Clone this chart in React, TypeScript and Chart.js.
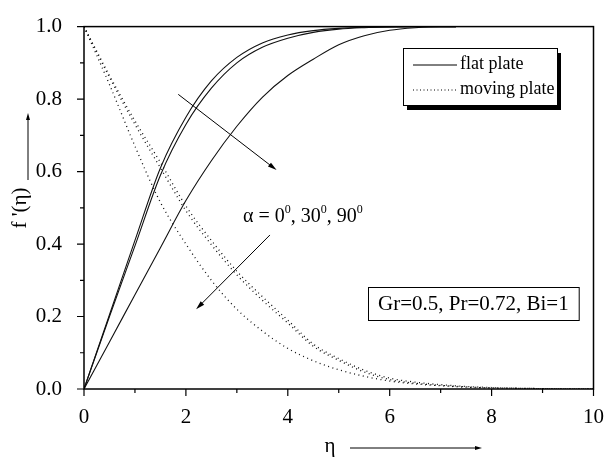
import React, { useEffect, useRef } from "react";
import { Chart, registerables } from "chart.js";

Chart.register(...registerables);

// ---- data ----
const ETA_FLAT = [0, 0.5, 1, 1.5, 2, 2.5, 3, 3.5, 4, 4.5, 5, 5.5, 6, 6.5, 7, 7.3];
const FLAT_A = [0, 0.205, 0.41, 0.61, 0.75, 0.85, 0.915, 0.955, 0.977, 0.989, 0.995, 0.998, 0.999, 1, 1, 1];
const FLAT_B = [0, 0.2, 0.395, 0.59, 0.73, 0.83, 0.9, 0.943, 0.968, 0.984, 0.993, 0.997, 0.999, 1, 1, 1];
const FLAT_C = [0, 0.13, 0.26, 0.39, 0.52, 0.63, 0.725, 0.805, 0.865, 0.91, 0.95, 0.975, 0.99, 0.997, 1, 1];

const ETA_MOVING = [0, 0.5, 1, 1.5, 2, 2.5, 3, 3.5, 4, 4.5, 5, 5.5, 6, 6.5, 7, 7.5, 8, 8.5, 9, 9.5, 10];
const MOVING_A = [1, 0.84, 0.67, 0.515, 0.4, 0.3, 0.22, 0.16, 0.112, 0.078, 0.053, 0.035, 0.022, 0.014, 0.009, 0.005, 0.003, 0.002, 0.001, 0, 0];
const MOVING_B = [1, 0.865, 0.74, 0.625, 0.505, 0.41, 0.325, 0.255, 0.19, 0.124, 0.084, 0.052, 0.03, 0.019, 0.012, 0.007, 0.004, 0.002, 0.001, 0.0005, 0];
const MOVING_C = [1, 0.86, 0.73, 0.61, 0.492, 0.398, 0.315, 0.245, 0.182, 0.118, 0.079, 0.047, 0.026, 0.016, 0.01, 0.006, 0.003, 0.002, 0.001, 0, 0];

const X_TICKS = [0, 2, 4, 6, 8, 10];
const Y_TICKS = [0, 0.2, 0.4, 0.6, 0.8, 1.0];

const LEGEND_LABELS = ["flat plate", "moving plate"];
const PARAM_TEXT = "Gr=0.5, Pr=0.72, Bi=1";
const ALPHA_PARTS = ["α = 0", ", 30", ", 90"];
const X_TITLE = "η";
const Y_TITLE = "f '(η)";

// arrows in data units [x1, y1, x2, y2]
const ARROW_FLAT = [1.85, 0.813, 3.78, 0.604];
const ARROW_MOVING = [3.65, 0.425, 2.2, 0.22];

const FONT = "'Liberation Serif', 'Times New Roman', serif";

function arrow(ctx: CanvasRenderingContext2D, x1: number, y1: number, x2: number, y2: number, head = 8, w = 3) {
  const a = Math.atan2(y2 - y1, x2 - x1);
  ctx.beginPath();
  ctx.moveTo(x1, y1);
  ctx.lineTo(x2 - Math.cos(a) * head * 0.6, y2 - Math.sin(a) * head * 0.6);
  ctx.stroke();
  ctx.beginPath();
  ctx.moveTo(x2, y2);
  ctx.lineTo(x2 - head * Math.cos(a) + w * Math.sin(a), y2 - head * Math.sin(a) - w * Math.cos(a));
  ctx.lineTo(x2 - head * Math.cos(a) - w * Math.sin(a), y2 - head * Math.sin(a) + w * Math.cos(a));
  ctx.closePath();
  ctx.fill();
}

const decorPlugin = {
  id: "decor",
  afterDatasetsDraw(chart: any) {
    const ctx: CanvasRenderingContext2D = chart.ctx;
    const { left, right, top, bottom } = chart.chartArea;
    const xs = chart.scales.x;
    const ys = chart.scales.y;
    ctx.save();
    ctx.strokeStyle = "#000";
    ctx.fillStyle = "#000";
    // frame
    ctx.lineWidth = 1.5;
    ctx.strokeRect(left, top, right - left, bottom - top);
    // ticks
    ctx.lineWidth = 1.2;
    ctx.beginPath();
    for (let v = 0; v <= 10; v += 1) {
      const px = xs.getPixelForValue(v);
      const len = v % 2 === 0 ? 7 : 4;
      ctx.moveTo(px, bottom);
      ctx.lineTo(px, bottom + len);
    }
    for (let i = 0; i <= 10; i++) {
      const py = ys.getPixelForValue(i / 10);
      const len = i % 2 === 0 ? 7 : 4;
      ctx.moveTo(left, py);
      ctx.lineTo(left - len, py);
    }
    ctx.stroke();

    // y title
    ctx.save();
    ctx.translate(20, 208);
    ctx.rotate(-Math.PI / 2);
    ctx.font = `21px ${FONT}`;
    ctx.textAlign = "center";
    ctx.textBaseline = "middle";
    ctx.fillText(Y_TITLE, 0, 0);
    ctx.restore();
    ctx.lineWidth = 1;
    arrow(ctx, 28, 180, 28, 113, 7, 2);

    // x title
    ctx.font = `21px ${FONT}`;
    ctx.textAlign = "center";
    ctx.textBaseline = "middle";
    ctx.fillText(X_TITLE, 330, 446);
    arrow(ctx, 350, 448, 482, 448, 7, 2);

    // arrows in plot
    arrow(ctx, xs.getPixelForValue(ARROW_FLAT[0]), ys.getPixelForValue(ARROW_FLAT[1]), xs.getPixelForValue(ARROW_FLAT[2]), ys.getPixelForValue(ARROW_FLAT[3]), 9, 2.5);
    arrow(ctx, xs.getPixelForValue(ARROW_MOVING[0]), ys.getPixelForValue(ARROW_MOVING[1]), xs.getPixelForValue(ARROW_MOVING[2]), ys.getPixelForValue(ARROW_MOVING[3]), 9, 2.5);

    // alpha text
    let ax = xs.getPixelForValue(3.12);
    const ay = ys.getPixelForValue(0.48);
    ctx.textAlign = "left";
    ctx.textBaseline = "alphabetic";
    ALPHA_PARTS.forEach((p) => {
      ctx.font = `20px ${FONT}`;
      ctx.fillText(p, ax, ay + 7);
      ax += ctx.measureText(p).width;
      ctx.font = `12px ${FONT}`;
      ctx.fillText("0", ax, ay - 2);
      ax += ctx.measureText("0").width;
    });

    // legend box
    const lx = 403, ly = 48, lw = 154, lh = 57;
    ctx.fillStyle = "#000";
    ctx.fillRect(lx + 4, ly + 5, lw, lh);
    ctx.fillStyle = "#fff";
    ctx.fillRect(lx, ly, lw, lh);
    ctx.lineWidth = 1;
    ctx.strokeStyle = "#000";
    ctx.strokeRect(lx + 0.5, ly + 0.5, lw, lh);
    ctx.beginPath();
    ctx.moveTo(413, 65);
    ctx.lineTo(457, 65);
    ctx.stroke();
    ctx.save();
    ctx.setLineDash([1, 2.5]);
    ctx.beginPath();
    ctx.moveTo(413, 90);
    ctx.lineTo(457, 90);
    ctx.stroke();
    ctx.restore();
    ctx.fillStyle = "#000";
    ctx.font = `18px ${FONT}`;
    ctx.textBaseline = "middle";
    ctx.fillText(LEGEND_LABELS[0], 460, 64);
    ctx.fillText(LEGEND_LABELS[1], 460, 89);

    // parameter box
    ctx.font = `21px ${FONT}`;
    const tw = ctx.measureText(PARAM_TEXT).width;
    const bx = 368, by = 287, bw = tw + 20, bh = 33;
    ctx.fillStyle = "#fff";
    ctx.fillRect(bx, by, bw, bh);
    ctx.strokeRect(bx + 0.5, by + 0.5, bw, bh);
    ctx.fillStyle = "#000";
    ctx.fillText(PARAM_TEXT, bx + 10, by + bh / 2 + 1);
    ctx.restore();
  },
};

function mk(xs: number[], ys: number[]) {
  return xs.map((x, i) => ({ x, y: ys[i] }));
}

export default function App() {
  const ref = useRef<HTMLCanvasElement | null>(null);
  useEffect(() => {
    if (!ref.current) return;
    const solid = { borderColor: "#111", borderWidth: 1.1, pointRadius: 0, showLine: true, cubicInterpolationMode: "monotone" as const, fill: false };
    const dotted = { ...solid, borderWidth: 1.3, borderDash: [1, 3.5] };
    const chart = new Chart(ref.current, {
      type: "scatter",
      data: {
        datasets: [
          { label: LEGEND_LABELS[0], data: mk(ETA_FLAT, FLAT_A), ...solid },
          { label: LEGEND_LABELS[0], data: mk(ETA_FLAT, FLAT_B), ...solid },
          { label: LEGEND_LABELS[0], data: mk(ETA_FLAT, FLAT_C), ...solid },
          { label: LEGEND_LABELS[1], data: mk(ETA_MOVING, MOVING_A), ...dotted },
          { label: LEGEND_LABELS[1], data: mk(ETA_MOVING, MOVING_B), ...dotted },
          { label: LEGEND_LABELS[1], data: mk(ETA_MOVING, MOVING_C), ...dotted },
        ] as any,
      },
      options: {
        animation: false,
        responsive: false,
        events: [],
        layout: { padding: { top: 15, right: 9, left: 0, bottom: 0 } },
        plugins: { legend: { display: false }, tooltip: { enabled: false } },
        scales: {
          x: {
            type: "linear",
            min: 0,
            max: 10,
            afterBuildTicks: (s: any) => { s.ticks = X_TICKS.map((v) => ({ value: v })); },
            ticks: { color: "#000", font: { family: FONT, size: 21 }, padding: 8, maxRotation: 0, callback: (v: any) => String(v) },
            grid: { display: false },
            border: { display: false },
            afterFit: (s: any) => { s.height = 75; },
          },
          y: {
            type: "linear",
            min: 0,
            max: 1,
            afterBuildTicks: (s: any) => { s.ticks = Y_TICKS.map((v) => ({ value: v })); },
            ticks: { color: "#000", font: { family: FONT, size: 21 }, padding: 14, callback: (v: any) => Number(v).toFixed(1) },
            grid: { display: false },
            border: { display: false },
            afterFit: (s: any) => { s.width = 84; },
          },
        },
      },
      plugins: [decorPlugin],
    });
    return () => chart.destroy();
  }, []);
  return (
    <div style={{ position: "absolute", left: 0, top: 0, width: 612, height: 464, background: "#fff" }}>
      <canvas ref={ref} width={612} height={464} style={{ display: "block", width: 612, height: 464 }} />
    </div>
  );
}
